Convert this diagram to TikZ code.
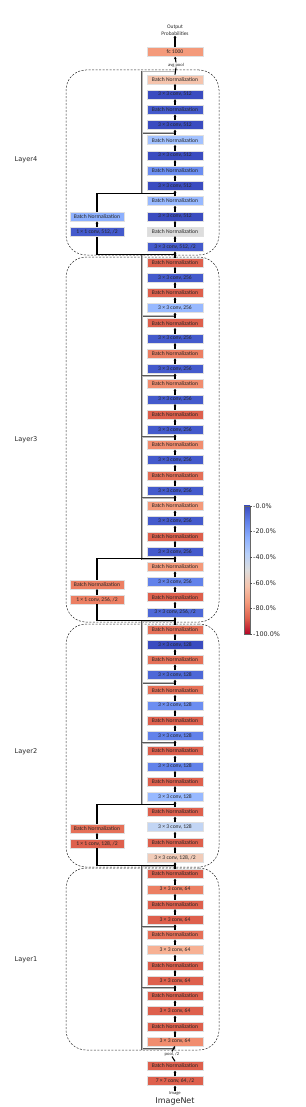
\documentclass[tikz,border=0pt]{standalone}
\usepackage{fontspec}
\setmainfont{Carlito}
\newfontfamily\dvs{DejaVu Sans}
\usetikzlibrary{arrows.meta,calc}
\definecolor{cw00}{HTML}{3B4CC0}
\definecolor{cw03}{HTML}{445ACC}
\definecolor{cw06}{HTML}{4D68D7}
\definecolor{cw12}{HTML}{6282EA}
\definecolor{cw16}{HTML}{6C8EF1}
\definecolor{cw25}{HTML}{8DB0FE}
\definecolor{cw28}{HTML}{98B9FF}
\definecolor{cw31}{HTML}{A3C2FF}
\definecolor{cw38}{HTML}{B8D0F9}
\definecolor{cw41}{HTML}{C2D5F4}
\definecolor{cw50}{HTML}{DDDDDD}
\definecolor{cw59}{HTML}{F1CCB9}
\definecolor{cw62}{HTML}{F5C4AD}
\definecolor{cw69}{HTML}{F7B194}
\definecolor{cw75}{HTML}{F49A7B}
\definecolor{cw78}{HTML}{F18D6F}
\definecolor{cw81}{HTML}{EC7F63}
\definecolor{cw84}{HTML}{E57058}
\definecolor{cw88}{HTML}{DE604D}
\definecolor{cw100}{HTML}{B40426}
\newcommand\blab[3]{\ifodd#1 Batch Normalization\else 3 × 3 conv, #2\ifnum#1=#3, /2\fi\fi}
\newcommand\mklayer[5]{\foreach \c [count=\i] in {#5}{\node[blk, fill=\c] (#1-\i) at (175,{#2+(\i-1)*15.22}) {\blab{\i}{#3}{#4}};}}
\newcommand\mkarrows[2]{\foreach \i in {2,...,#2}{\pgfmathtruncatemacro\k{\i-1}\draw[arr] (#1-\i.north) -- (#1-\k.south);}}
\newcommand\mkjunc[2]{\foreach \b in {1,...,#2}{\pgfmathtruncatemacro\ta{4*\b-3}\pgfmathtruncatemacro\tb{4*\b}\coordinate (#1-o\b) at ($(#1-\ta.north)+(0,-3.1)$);\coordinate (#1-i\b) at ($(#1-\tb.south)+(0,3.1)$);}}
\begin{document}
\begin{tikzpicture}[x=1pt,y=-1pt,
  blk/.style={draw=black!12, line width=0.4pt, minimum width=55.5pt, minimum height=9pt, inner sep=0pt, font=\fontsize{5.6}{6}\selectfont, text=black!85},
  sblk/.style={blk, minimum width=54pt},
  arr/.style={line width=1.1pt, -{Stealth[length=2.2pt,width=2.8pt]}},
  plain/.style={line width=1.1pt},
  idl/.style={draw=black!65, line width=0.45pt, double=black!28, double distance=0.8pt},
  grp/.style={draw=black!85, dash pattern=on 2pt off 1.5pt, line width=0.5pt, rounded corners=20pt, minimum width=153pt, inner sep=0pt},
  small/.style={font=\fontsize{4.6}{5}\selectfont, inner sep=0.4pt, text=black!85},
  laylbl/.style={font=\dvs\fontsize{6.6}{7}\selectfont, text=black!85},
  cbl/.style={font=\dvs\fontsize{6.4}{7}\selectfont, anchor=west, inner sep=0pt, text=black!85}]
\useasboundingbox (0,0) rectangle (305,1107);
% groups
\node[grp, minimum height=185pt] (G4) at (142.5,162.5) {};
\node[grp, minimum height=365pt] (G3) at (142.5,439.5) {};
\node[grp, minimum height=243pt] (G2) at (142.5,745.5) {};
\node[grp, minimum height=182pt] (G1) at (142.5,959) {};
\node[laylbl] (T4) at (26,160) {Layer4};
\node[laylbl] (T3) at (26,440) {Layer3};
\node[laylbl] (T2) at (26,752) {Layer2};
\node[laylbl] (T1) at (26,960) {Layer1};
% main column
\mklayer{L4}{79.3}{512}{12}{cw62,cw00,cw03,cw00,cw31,cw00,cw16,cw00,cw28,cw00,cw50,cw03}
\mklayer{L3}{262.3}{256}{24}{cw88,cw03,cw88,cw28,cw88,cw03,cw81,cw03,cw78,cw03,cw88,cw03,cw78,cw03,cw84,cw03,cw75,cw03,cw88,cw03,cw75,cw12,cw88,cw06}
\mklayer{L2}{629.3}{128}{16}{cw84,cw00,cw84,cw06,cw84,cw16,cw88,cw12,cw88,cw12,cw88,cw28,cw88,cw41,cw88,cw59}
\mklayer{L1}{874}{64}{0}{cw88,cw81,cw88,cw88,cw84,cw69,cw88,cw88,cw88,cw88,cw88,cw78}
\node[blk, fill=cw75] (F) at (175,52) {fc 1000};
\node[small] (AP) at (176,65) {avg pool};
\node[small, align=center, font=\fontsize{5.4}{6.6}\selectfont] (OP) at (175,30) {Output\\Probabilities};
\node[blk, fill=cw88] (SB) at (175,1066) {Batch Normalization};
\node[blk, fill=cw88] (SC) at (175,1081) {7 × 7 conv, 64, /2};
\node[small] (PL) at (172,1054) {pool, /2};
\node[small] (IM) at (175,1093.3) {Image};
\node[font=\dvs\fontsize{8}{9}\selectfont, inner sep=0pt, text=black!85] (IN) at (175,1101) {ImageNet};
% side branches
\node[sblk, fill=cw25] (S4-1) at (97,216.7) {Batch Normalization};
\node[sblk, fill=cw03] (S4-2) at (97,231.9) {1 × 1 conv, 512, /2};
\node[sblk, fill=cw81] (S3-1) at (97,584.3) {Batch Normalization};
\node[sblk, fill=cw81] (S3-2) at (97,599.5) {1 × 1 conv, 256, /2};
\node[sblk, fill=cw84] (S2-1) at (97,828.3) {Batch Normalization};
\node[sblk, fill=cw88] (S2-2) at (97,843.5) {1 × 1 conv, 128, /2};
% junctions
\mkjunc{L4}{3}
\mkjunc{L3}{6}
\mkjunc{L2}{4}
\mkjunc{L1}{3}
% identity shortcuts
\foreach \b in {1,2}{\draw[idl] (L4-i\b) -- ++(-33,0) |- (L4-o\b);}
\foreach \b in {1,...,5}{\draw[idl] (L3-i\b) -- ++(-33,0) |- (L3-o\b);}
\foreach \b in {1,...,3}{\draw[idl] (L2-i\b) -- ++(-33,0) |- (L2-o\b);}
\foreach \b in {1,...,3}{\draw[idl] (L1-i\b) -- ++(-33,0) |- (L1-o\b);}
% downsample shortcuts
\draw[plain] (L4-i3) -| (S4-2.south);
\draw[arr] (S4-2.north) -- (S4-1.south);
\draw[plain] (S4-1.north) |- (L4-o3);
\draw[plain] (L3-i6) -| (S3-2.south);
\draw[arr] (S3-2.north) -- (S3-1.south);
\draw[plain] (S3-1.north) |- (L3-o6);
\draw[plain] (L2-i4) -| (S2-2.south);
\draw[arr] (S2-2.north) -- (S2-1.south);
\draw[plain] (S2-1.north) |- (L2-o4);
% main arrows
\mkarrows{L4}{12}
\mkarrows{L3}{24}
\mkarrows{L2}{16}
\mkarrows{L1}{12}
\draw[arr] (L3-1.north) -- (L4-12.south);
\draw[arr] (L2-1.north) -- (L3-24.south);
\draw[arr] (L1-1.north) -- (L2-16.south);
\draw[plain] (SB.north) -- (PL.south);
\draw[arr] (PL.north) -- (L1-12.south);
\draw[arr] (SC.north) -- (SB.south);
\draw[arr] (IM.north) -- (SC.south);
\draw[plain] (L4-1.north) -- (AP.south);
\draw[arr] (AP.north) -- (F.south);
\draw[arr] (F.north) -- (OP.south);
% colorbar
\shade[top color=cw00, bottom color=cw12] (244,505.7) rectangle (250,521.8);
\shade[top color=cw12, bottom color=cw25] (244,521.8) rectangle (250,537.9);
\shade[top color=cw25, bottom color=cw38] (244,537.9) rectangle (250,553.9);
\shade[top color=cw38, bottom color=cw50] (244,553.9) rectangle (250,570.0);
\shade[top color=cw50, bottom color=cw62] (244,570.0) rectangle (250,586.1);
\shade[top color=cw62, bottom color=cw75] (244,586.1) rectangle (250,602.2);
\shade[top color=cw75, bottom color=cw88] (244,602.2) rectangle (250,618.2);
\shade[top color=cw88, bottom color=cw100] (244,618.2) rectangle (250,634.3);
\draw[black!60, line width=0.3pt] (244,505.7) rectangle (250,634.3);
\foreach \k/\lab in {0/-0.0\%,1/-20.0\%,2/-40.0\%,3/-60.0\%,4/-80.0\%,5/-100.0\%}{
  \draw[black!70, line width=0.4pt] (250,{505.7+\k*25.72}) -- (252,{505.7+\k*25.72});
  \node[cbl] (CB\k) at (253,{505.7+\k*25.72}) {\lab};}
\end{tikzpicture}
\end{document}
